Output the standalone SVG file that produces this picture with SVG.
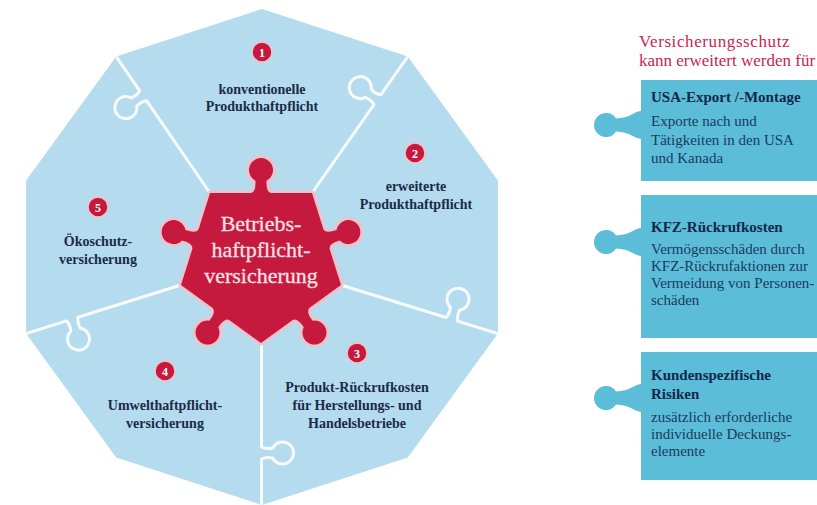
<svg xmlns="http://www.w3.org/2000/svg" width="817" height="505" viewBox="0 0 817 505">
<defs>
<style>
.piece{font-family:"Liberation Serif","Times New Roman",serif;font-weight:bold;font-size:14px;fill:#1b2a48;text-anchor:middle}
.badge circle{fill:#c51a3e;stroke:#f2c3cb;stroke-width:1.5}
.badge text{font-family:"Liberation Serif","Times New Roman",serif;font-weight:bold;font-size:12px;fill:#ffffff;text-anchor:middle}
.div{fill:none;stroke:#f7fbfd;stroke-width:3;stroke-linejoin:round}
.ctext{font-family:"Liberation Serif","Times New Roman",serif;font-size:22px;fill:#fbe0e5;stroke:#fbe0e5;stroke-width:0.3;text-anchor:middle}
.box{fill:#5cbdd8}
.bt{font-family:"Liberation Serif","Times New Roman",serif;font-weight:bold;font-size:15px;fill:#12284a}
.bb{font-family:"Liberation Serif","Times New Roman",serif;font-size:15px;fill:#1a3a60}
.head{font-family:"Liberation Serif","Times New Roman",serif;font-size:17px;fill:#c8264f}
</style>
<path id="knob" d="M-10,3 L-10,0 Q-5,-1 -5.5,-12.3 A12 12 0 1 1 5.5,-12.3 Q5,-1 10,0 L10,3 Z"/>
<clipPath id="deca">
<polygon points="262,9 407.8,56.4 497.9,180.4 497.9,333.6 407.8,457.6 262,505 116.2,457.6 26.1,333.6 26.1,180.4 116.2,56.4"/>
</clipPath>
</defs>
<rect width="817" height="505" fill="#ffffff"/>
<g id="background">
<polygon points="262,9 407.8,56.4 497.9,180.4 497.9,333.6 407.8,457.6 262,505 116.2,457.6 26.1,333.6 26.1,180.4 116.2,56.4" fill="#b4dbee"/>
</g>
<g id="dividers" clip-path="url(#deca)">
<path class="div" transform="translate(210,193) rotate(-124.5)" d="M0,0 H112 Q114.5,-5 113,-11.2 A11 11 0 1 1 123,-11.2 Q121.5,-5 124,0 H185"/>
<path class="div" transform="translate(312,193) rotate(-54.96)" d="M0,0 H108 Q110.5,-5 109,-11.2 A11 11 0 1 1 119,-11.2 Q117.5,-5 120,0 H185"/>
<path class="div" transform="translate(341,285) rotate(17.2)" d="M0,0 H110 Q112.5,-5 111,-11.2 A11 11 0 1 1 121,-11.2 Q119.5,-5 122,0 H185"/>
<path class="div" transform="translate(261.5,343) rotate(90)" d="M0,0 H104 Q106.5,-5 105,-11.2 A11 11 0 1 1 115,-11.2 Q113.5,-5 116,0 H185"/>
<path class="div" transform="translate(181,285) rotate(162.6)" d="M0,0 H108 Q110.5,-5 109,-11.2 A11 11 0 1 1 119,-11.2 Q117.5,-5 120,0 H185"/>
</g>
<g id="piece-1">
<g class="badge"><circle cx="262" cy="52" r="10"/><text x="262" y="56.5">1</text></g>
<text class="piece" x="262" y="94">konventionelle</text>
<text class="piece" x="262" y="111">Produkthaftpflicht</text>
</g>
<g id="piece-2">
<g class="badge"><circle cx="415" cy="153" r="10"/><text x="415" y="157.5">2</text></g>
<text class="piece" x="416" y="191">erweiterte</text>
<text class="piece" x="416" y="209">Produkthaftpflicht</text>
</g>
<g id="piece-3">
<g class="badge"><circle cx="357" cy="353" r="10"/><text x="357" y="357.5">3</text></g>
<text class="piece" x="357" y="392">Produkt-Rückrufkosten</text>
<text class="piece" x="357" y="410">für Herstellungs- und</text>
<text class="piece" x="357" y="428">Handelsbetriebe</text>
</g>
<g id="piece-4">
<g class="badge"><circle cx="165" cy="371" r="10"/><text x="165" y="375.5">4</text></g>
<text class="piece" x="165" y="410">Umwelthaftpflicht-</text>
<text class="piece" x="165" y="428">versicherung</text>
</g>
<g id="piece-5">
<g class="badge"><circle cx="98" cy="207" r="10"/><text x="98" y="211.5">5</text></g>
<text class="piece" x="98" y="246">Ökoschutz-</text>
<text class="piece" x="98" y="264">versicherung</text>
</g>
<g id="center">
<g fill="#f3c0c9" stroke="#f3c0c9" stroke-width="5" stroke-linejoin="round">
<polygon points="210,193 312,193 341,285 261,343 181,285"/>
<use href="#knob" transform="translate(261,193)"/>
<use href="#knob" transform="translate(326.5,239) rotate(72.5)"/>
<use href="#knob" transform="translate(301,314) rotate(144.06)"/>
<use href="#knob" transform="translate(221,314) rotate(-144.06)"/>
<use href="#knob" transform="translate(195.5,239) rotate(-72.5)"/>
</g>
<g fill="#c51a3e">
<polygon points="210,193 312,193 341,285 261,343 181,285"/>
<use href="#knob" transform="translate(261,193)"/>
<use href="#knob" transform="translate(326.5,239) rotate(72.5)"/>
<use href="#knob" transform="translate(301,314) rotate(144.06)"/>
<use href="#knob" transform="translate(221,314) rotate(-144.06)"/>
<use href="#knob" transform="translate(195.5,239) rotate(-72.5)"/>
</g>
<text class="ctext" x="261" y="231">Betriebs-</text>
<text class="ctext" x="261" y="257">haftpflicht-</text>
<text class="ctext" x="261" y="283">versicherung</text>
</g>
<g id="heading">
<text class="head" x="639" y="47" letter-spacing="0.6">Versicherungsschutz</text>
<text class="head" x="639" y="66">kann erweitert werden für</text>
</g>
<g id="box-usa">
<path class="box" d="M641,80 H817 V181 H641 V139 C633,138 630,132 616,131.6 A12 12 0 1 1 616,118.4 C630,118 633,112 641,111 Z"/>
<text class="bt" x="651" y="102">USA-Export /-Montage</text>
<text class="bb" x="651" y="126">Exporte nach und</text>
<text class="bb" x="651" y="144.5">Tätigkeiten in den USA</text>
<text class="bb" x="651" y="163">und Kanada</text>
</g>
<g id="box-kfz">
<path class="box" d="M641,195 H817 V338 H641 V256 C633,255 630,249 616,248.6 A12 12 0 1 1 616,235.4 C630,235 633,229 641,228 Z"/>
<text class="bt" x="651" y="232">KFZ-Rückrufkosten</text>
<text class="bb" x="651" y="254">Vermögensschäden durch</text>
<text class="bb" x="651" y="271">KFZ-Rückrufaktionen zur</text>
<text class="bb" x="651" y="288">Vermeidung von Personen-</text>
<text class="bb" x="651" y="305">schäden</text>
</g>
<g id="box-kunden">
<path class="box" d="M641,352 H817 V480 H641 V412 C633,411 630,405 616,404.6 A12 12 0 1 1 616,391.4 C630,391 633,385 641,384 Z"/>
<text class="bt" x="651" y="380">Kundenspezifische</text>
<text class="bt" x="651" y="399">Risiken</text>
<text class="bb" x="651" y="422">zusätzlich erforderliche</text>
<text class="bb" x="651" y="439">individuelle Deckungs-</text>
<text class="bb" x="651" y="456">elemente</text>
</g>
</svg>
